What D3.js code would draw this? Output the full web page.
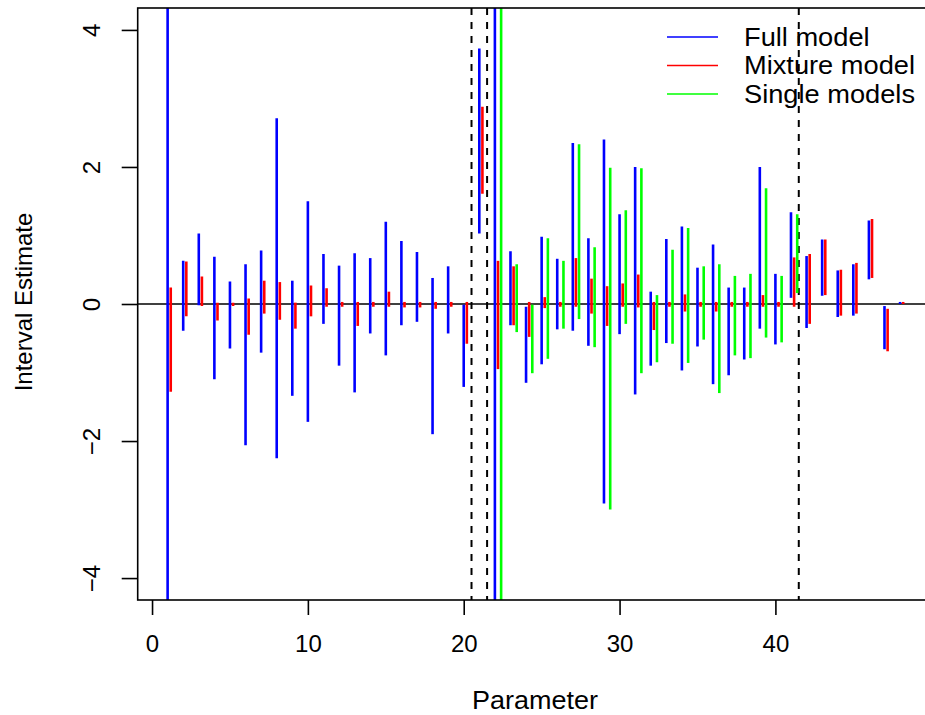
<!DOCTYPE html>
<html>
<head>
<meta charset="utf-8">
<script src="https://cdn.jsdelivr.net/npm/d3@7"></script>
<style>
  html, body { margin: 0; padding: 0; background: #fff; }
  svg { display: block; font-family: "Liberation Sans", Arial, Helvetica, sans-serif; }
</style>
</head>
<body>
<svg id="chart" width="925" height="715"></svg>
<script>
// ---- data ----
const params = d3.range(1, 49);
const fullLo = [-12, -0.39, -0.02, -1.10, -0.65, -2.06, -0.71, -2.25, -1.34, -1.72,
  -0.29, -0.90, -1.29, -0.43, -0.75, -0.31, -0.26, -1.90, -0.43, -1.21,
  1.03, -12, -0.31, -1.15, -0.88, -0.37, -0.39, -0.61, -2.91, -0.44,
  -1.32, -0.90, -0.57, -0.97, -0.62, -1.17, -1.04, -0.81, -0.36, -0.59,
  0.09, -0.35, 0.12, -0.19, -0.17, 0.36, -0.66, 0.00];
const fullHi = [12, 0.63, 1.03, 0.69, 0.33, 0.58, 0.78, 2.71, 0.34, 1.50,
  0.73, 0.56, 0.74, 0.67, 1.20, 0.92, 0.76, 0.38, 0.55, -0.01,
  3.73, 12, 0.77, -0.04, 0.98, 0.66, 2.35, 0.96, 2.40, 1.31,
  2.00, 0.18, 0.95, 1.13, 0.53, 0.87, 0.24, 0.24, 2.00, 0.44,
  1.34, 0.70, 0.94, 0.49, 0.58, 1.22, -0.03, 0.03];
const mixLo = [-1.28, -0.18, -0.03, -0.24, -0.03, -0.45, -0.14, -0.23, -0.36, -0.18,
  -0.04, -0.04, -0.32, -0.04, -0.04, -0.05, -0.05, -0.07, -0.04, -0.58,
  1.61, -0.95, -0.31, -0.48, -0.06, -0.04, -0.04, -0.14, -0.32, -0.04,
  -0.05, -0.38, -0.04, -0.11, -0.04, -0.11, -0.04, -0.04, -0.04, -0.04,
  -0.04, -0.29, 0.13, -0.17, -0.14, 0.38, -0.69, 0.00];
const mixHi = [0.24, 0.62, 0.40, 0.02, 0.02, 0.08, 0.34, 0.32, 0.02, 0.27,
  0.23, 0.03, 0.03, 0.03, 0.18, 0.03, 0.03, 0.03, 0.03, 0.03,
  2.88, 0.63, 0.55, 0.03, 0.10, 0.03, 0.67, 0.37, 0.26, 0.30,
  0.43, 0.03, 0.03, 0.14, 0.03, 0.03, 0.03, 0.03, 0.13, 0.03,
  0.68, 0.73, 0.94, 0.50, 0.60, 1.24, -0.07, 0.03];
const singleParams = d3.range(22, 42);
const singleLo = [-12, -0.41, -1.01, -0.80, -0.36, -0.22, -0.63, -3.00, -0.29, -1.01,
  -0.85, -0.58, -0.86, -0.52, -1.30, -0.75, -0.79, -0.49, -0.56, 0.16];
const singleHi = [12, 0.58, -0.01, 0.96, 0.63, 2.33, 0.83, 1.99, 1.37, 1.98,
  0.13, 0.79, 1.11, 0.55, 0.58, 0.41, 0.44, 1.69, 0.41, 1.31];
const dashedAt = [20.5, 21.5, 41.5];
const xTicks = [0, 10, 20, 30, 40];
const yTicks = [-4, -2, 0, 2, 4];
const legendLabels = ["Full model", "Mixture model", "Single models"];
const legendColors = ["#0000ff", "#ff0000", "#00ff00"];
const offsets = [0, 0.2, 0.4];

// ---- layout ----
const svg = d3.select("#chart");
const pLeft = 137.7, pTop = 8, pBottom = 600, pRight = 930;
const x = d3.scaleLinear().domain([-0.92, 49.92]).range([pLeft, pRight]);
const y = d3.scaleLinear().domain([-4.32, 4.32]).range([pBottom, pTop]);

svg.append("defs").append("clipPath").attr("id", "plotclip")
  .append("rect").attr("x", pLeft).attr("y", pTop)
  .attr("width", pRight - pLeft).attr("height", pBottom - pTop);

const plot = svg.append("g").attr("clip-path", "url(#plotclip)");

// zero line
plot.append("line")
  .attr("x1", pLeft).attr("x2", pRight)
  .attr("y1", y(0)).attr("y2", y(0))
  .attr("stroke", "#000").attr("stroke-width", 1.7);

// dashed lines
plot.selectAll("line.dash").data(dashedAt).join("line")
  .attr("class", "dash")
  .attr("x1", d => x(d)).attr("x2", d => x(d))
  .attr("y1", pTop).attr("y2", pBottom)
  .attr("stroke", "#000").attr("stroke-width", 2)
  .attr("stroke-dasharray", "7,7");

function drawSeries(ps, lo, hi, color, off) {
  plot.selectAll(null).data(ps.map((p, i) => ({p, lo: lo[i], hi: hi[i]}))).join("line")
    .attr("x1", d => x(d.p + off)).attr("x2", d => x(d.p + off))
    .attr("y1", d => y(d.lo)).attr("y2", d => y(d.hi))
    .attr("stroke", color).attr("stroke-width", 2.6);
}
drawSeries(params, fullLo, fullHi, legendColors[0], offsets[0]);
drawSeries(params, mixLo, mixHi, legendColors[1], offsets[1]);
drawSeries(singleParams, singleLo, singleHi, legendColors[2], offsets[2]);

// box
svg.append("rect").attr("x", pLeft).attr("y", pTop)
  .attr("width", pRight - pLeft).attr("height", pBottom - pTop)
  .attr("fill", "none").attr("stroke", "#000").attr("stroke-width", 1.6);

// x axis
const xAxis = d3.axisBottom(x).tickValues(xTicks).tickSize(15).tickPadding(20)
  .tickFormat(d3.format("d"));
const gx = svg.append("g").attr("transform", `translate(0,${pBottom})`).call(xAxis);
gx.select(".domain").remove();
gx.selectAll(".tick line").attr("stroke", "#000").attr("stroke-width", 1.6);
gx.selectAll(".tick text").attr("font-size", 24).attr("fill", "#000")
  .attr("font-family", "Liberation Sans, Arial, sans-serif");

// y axis
const yAxis = d3.axisLeft(y).tickValues(yTicks).tickSize(16).tickPadding(0)
  .tickFormat(d => d < 0 ? "\u2212" + Math.abs(d) : String(d));
const gy = svg.append("g").attr("transform", `translate(${pLeft},0)`).call(yAxis);
gy.select(".domain").remove();
gy.selectAll(".tick line").attr("stroke", "#000").attr("stroke-width", 1.6);
gy.selectAll(".tick text")
  .attr("font-size", 24).attr("fill", "#000")
  .attr("font-family", "Liberation Sans, Arial, sans-serif")
  .attr("x", null).attr("dy", null)
  .attr("text-anchor", "middle")
  .attr("transform", "translate(-38,0) rotate(-90)");

// axis titles
svg.append("text").attr("transform", "translate(535,709) scale(1.08,1)")
  .attr("text-anchor", "middle").attr("font-size", 25).text("Parameter");
svg.append("text")
  .attr("transform", "translate(32,302) rotate(-90)")
  .attr("text-anchor", "middle").attr("font-size", 24).text("Interval Estimate");

// legend
const lg = svg.append("g");
const rows = legendLabels.map((t, i) => ({t, c: legendColors[i], i}));
lg.selectAll("line").data(rows).join("line")
  .attr("x1", 667).attr("x2", 718)
  .attr("y1", d => 37 + d.i * 28.5).attr("y2", d => 37 + d.i * 28.5)
  .attr("stroke", d => d.c).attr("stroke-width", 1.6);
lg.selectAll("text").data(rows).join("text")
  .attr("transform", d => `translate(744,${37 + d.i * 28.5}) scale(1.09,1)`)
  .attr("dy", "0.35em").attr("font-size", 25)
  .text(d => d.t);
</script>
</body>
</html>
